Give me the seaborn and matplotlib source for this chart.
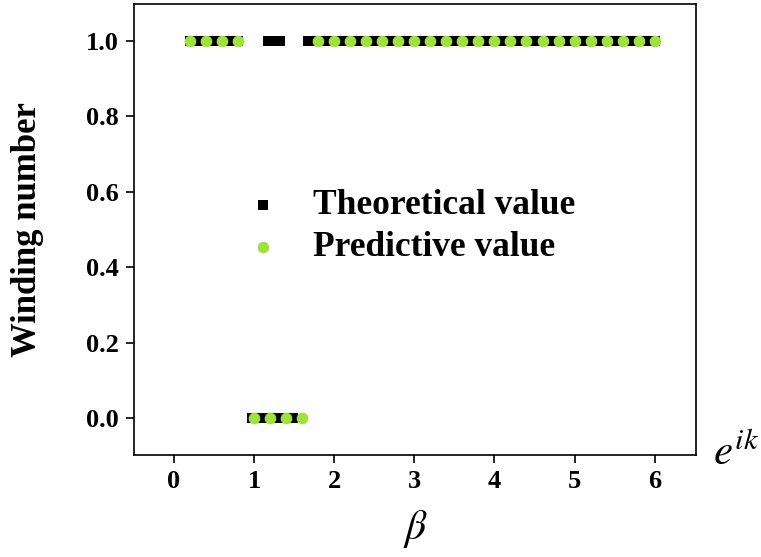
"""Winding number vs beta: theoretical vs predictive values."""

import numpy as np
import pandas as pd
import seaborn as sns
import matplotlib.pyplot as plt

###################################################################################################
###################################################################################################

# Theoretical value, sampled on a fine beta grid; read as flat segments from the picture
theory_step = 0.01
theory_seg_start = [0.20, 0.97, 1.17, 1.67]
theory_seg_end = [0.80, 1.49, 1.32, 6.00]
theory_seg_value = [1.0, 0.0, 1.0, 1.0]

# Predictive value
pred_beta = [0.2, 0.4, 0.6, 0.8, 1.0, 1.2, 1.4, 1.6, 1.8, 2.0,
             2.2, 2.4, 2.6, 2.8, 3.0, 3.2, 3.4, 3.6, 3.8, 4.0,
             4.2, 4.4, 4.6, 4.8, 5.0, 5.2, 5.4, 5.6, 5.8, 6.0]
pred_value = [1, 1, 1, 1, 0, 0, 0, 0, 1, 1,
              1, 1, 1, 1, 1, 1, 1, 1, 1, 1,
              1, 1, 1, 1, 1, 1, 1, 1, 1, 1]

x_ticks = [0, 1, 2, 3, 4, 5, 6]
y_ticks = [0.0, 0.2, 0.4, 0.6, 0.8, 1.0]

GREEN = '#9de33c'

# Build the theoretical table from the segments
rows = []
for start, end, val in zip(theory_seg_start, theory_seg_end, theory_seg_value):
    n_pts = int(round((end - start) / theory_step)) + 1
    for bb in np.linspace(start, end, n_pts):
        rows.append((bb, val))
theory = pd.DataFrame(rows, columns=['beta', 'winding'])
pred = pd.DataFrame({'beta': pred_beta, 'winding': pred_value})

sns.set_style('ticks')
plt.rcParams['font.family'] = ['Liberation Serif', 'DejaVu Serif']
plt.rcParams['mathtext.fontset'] = 'stix'
for key in ['text.color', 'axes.labelcolor', 'xtick.color', 'ytick.color', 'axes.edgecolor']:
    plt.rcParams[key] = 'black'

fig = plt.figure(figsize=[7.61, 5.57], dpi=100)
ax = fig.add_axes([0.176, 0.183, 0.739, 0.810])

sns.scatterplot(data=theory, x='beta', y='winding', ax=ax, marker='s', s=55,
                color='black', linewidth=0, label='Theoretical value')
sns.scatterplot(data=pred, x='beta', y='winding', ax=ax, marker='o', s=70,
                color=GREEN, linewidth=0, label='Predictive value')

ax.set_xlim([-0.5, 6.52])
ax.set_ylim([-0.098, 1.098])
ax.set_xticks(x_ticks)
ax.set_yticks(y_ticks)
ax.set_yticklabels(['%.1f' % yy for yy in y_ticks])

# Titles & Labels
ax.set_xlabel(r'$\beta$', fontsize=30)
ax.xaxis.set_label_coords(0.5, -0.118)
ax.set_ylabel('Winding number', fontsize=25, fontweight='bold')
ax.yaxis.set_label_coords(-0.16, 0.5)
ax.text(1.03, -0.022, r'$e^{ik}$', transform=ax.transAxes, fontsize=31,
        ha='left', va='baseline')

# Set plot style
ax.tick_params(axis='both', which='major', labelsize=19, length=6, width=1.2,
               direction='out', pad=5)
for lab in ax.get_xticklabels() + ax.get_yticklabels():
    lab.set_fontweight('bold')
for sp in ax.spines.values():
    sp.set_linewidth(1.2)

leg = ax.legend(loc='center', bbox_to_anchor=(0.488, 0.506), frameon=False,
                fontsize=25.5, handlelength=1.2, handletextpad=0.8,
                labelspacing=0.25, markerscale=1.0)
for txt in leg.get_texts():
    txt.set_fontweight('bold')

plt.savefig('out.png', dpi=100)
